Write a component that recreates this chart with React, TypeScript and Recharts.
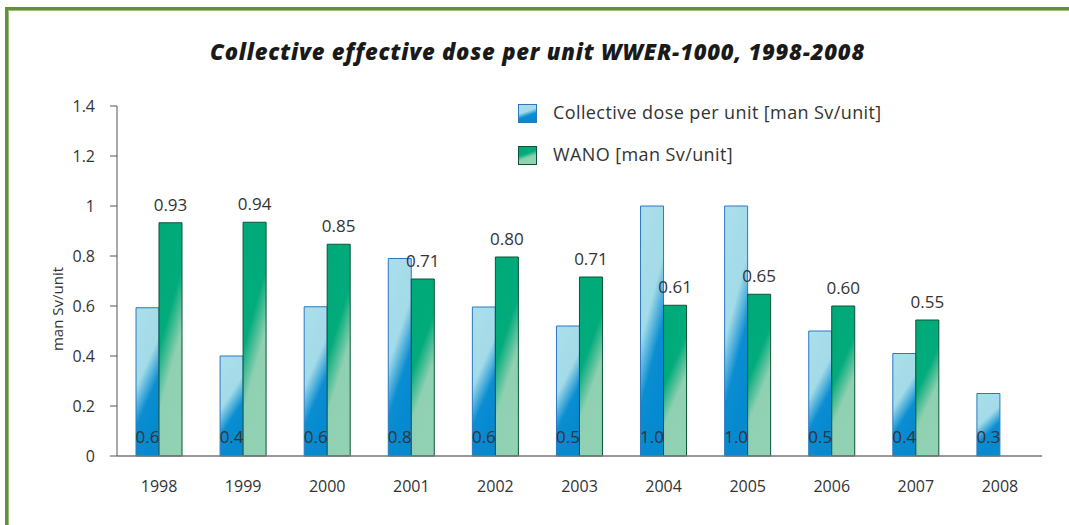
import React from 'react';
import { BarChart, Bar, XAxis, YAxis, LabelList, Label } from 'recharts';

const years = ['1998', '1999', '2000', '2001', '2002', '2003', '2004', '2005', '2006', '2007', '2008'];
const doseValues = [0.593, 0.4, 0.597, 0.79, 0.596, 0.52, 1.0, 1.0, 0.5, 0.41, 0.25];
const doseLabels = ['0.6', '0.4', '0.6', '0.8', '0.6', '0.5', '1.0', '1.0', '0.5', '0.4', '0.3'];
const wanoValues = [0.933, 0.935, 0.847, 0.708, 0.796, 0.716, 0.603, 0.647, 0.6, 0.544, null];
const wanoLabels = ['0.93', '0.94', '0.85', '0.71', '0.80', '0.71', '0.61', '0.65', '0.60', '0.55', undefined];
const yTicks = [0, 0.2, 0.4, 0.6, 0.8, 1, 1.2, 1.4];
const boundaryTicks = [0, 1, 2, 3, 4, 5, 6, 7, 8, 9, 10, 11];
const seriesNames = ['Collective dose per unit [man Sv/unit]', 'WANO [man Sv/unit]'];
const titleText = 'Collective effective dose per unit WWER-1000, 1998-2008';
const yAxisTitle = 'man Sv/unit';

const data = years.map((year, i) => ({
  year,
  dose: doseValues[i],
  doseLabel: doseLabels[i],
  wano: wanoValues[i],
  wanoLabel: wanoLabels[i],
}));

const FONT = '"Open Sans", sans-serif';
const TEXT = '#333333';

export default function App() {
  return (
    <div style={{ position: 'absolute', left: 0, top: 0, width: 1069, height: 525, overflow: 'hidden', background: '#ffffff', fontFamily: FONT }}>
      <svg width={0} height={0} style={{ position: 'absolute' }}>
        <defs>
          <linearGradient id="gBlue" x1="0" y1="0" x2="0.35" y2="1">
            <stop offset="0" stopColor="#aadeea" />
            <stop offset="0.48" stopColor="#a4dbe8" />
            <stop offset="0.72" stopColor="#0a8dd1" />
            <stop offset="1" stopColor="#0589cf" />
          </linearGradient>
          <linearGradient id="gGreen" x1="0" y1="0" x2="0.35" y2="1">
            <stop offset="0" stopColor="#00a977" />
            <stop offset="0.48" stopColor="#02ab7b" />
            <stop offset="0.72" stopColor="#8ed0b1" />
            <stop offset="1" stopColor="#92d2b4" />
          </linearGradient>
        </defs>
      </svg>
      <div style={{ position: 'absolute', left: 5, top: 7, width: 1200, height: 700, borderTop: '3px solid #64903a', borderLeft: '3px solid #64903a', boxShadow: 'inset 1px 1px 0 #9dbd7f' }} />
      <div style={{ position: 'absolute', left: 3, top: 40, width: 1069, textAlign: 'center', fontSize: 22, lineHeight: '22px', fontWeight: 800, fontStyle: 'italic', letterSpacing: 0.8, color: '#1a1a1a', whiteSpace: 'nowrap' }}>
        {titleText}
      </div>
      <div style={{ position: 'absolute', left: 0, top: 0 }}>
        <BarChart width={1069} height={525} data={data} margin={{ top: 106, right: 27, bottom: 39, left: 57 }} barGap={0} barSize={23}>
          <XAxis xAxisId="bnd" type="number" domain={[0, 11]} ticks={boundaryTicks} allowDataOverflow height={0} tick={false} axisLine={false} tickLine={{ stroke: '#555' }} tickSize={6} />
          <XAxis xAxisId="cat" dataKey="year" height={30} axisLine={{ stroke: '#777', strokeWidth: 1.5 }} tickLine={false} tickSize={0} tickMargin={25} tick={{ fill: TEXT, fontSize: 16, fontFamily: FONT }} />
          <YAxis width={60} domain={[0, 1.4]} ticks={yTicks} tickFormatter={(v) => String(v)} axisLine={{ stroke: '#555' }} tickLine={{ stroke: '#555' }} tickSize={7} tickMargin={15} tick={{ fill: TEXT, fontSize: 16, fontFamily: FONT }}>
            <Label
              content={(props: any) => {
                const vb = props.viewBox || { x: 57, y: 106, width: 60, height: 350 };
                const cx = vb.x;
                const cy = vb.y + vb.height / 2 + 28;
                return (
                  <text x={cx} y={cy} transform={`rotate(-90 ${cx} ${cy})`} textAnchor="middle" dominantBaseline="central" fill={TEXT} fontSize={15} fontFamily={FONT}>
                    {yAxisTitle}
                  </text>
                );
              }}
            />
          </YAxis>
          <Bar xAxisId="cat" dataKey="dose" name={seriesNames[0]} fill="url(#gBlue)" stroke="#2a78c2" strokeWidth={1} isAnimationActive={false}>
            <LabelList dataKey="doseLabel" position="insideBottom" offset={13} fill={TEXT} fontSize={17} fontFamily={FONT} />
          </Bar>
          <Bar xAxisId="cat" dataKey="wano" name={seriesNames[1]} fill="url(#gGreen)" stroke="#0d5434" strokeWidth={1} isAnimationActive={false}>
            <LabelList dataKey="wanoLabel" position="top" offset={12} fill={TEXT} fontSize={17} fontFamily={FONT} />
          </Bar>
        </BarChart>
      </div>
      {seriesNames.map((name, i) => (
        <React.Fragment key={name}>
          <svg style={{ position: 'absolute', left: 518, top: i === 0 ? 104 : 146 }} width={19} height={19}>
            <rect x={0.5} y={0.5} width={18} height={18} fill={i === 0 ? 'url(#gBlue)' : 'url(#gGreen)'} stroke={i === 0 ? '#2a78c2' : '#0d5434'} strokeWidth={1} />
          </svg>
          <div style={{ position: 'absolute', left: 553, top: i === 0 ? 102 : 144, fontSize: 18, lineHeight: '20px', letterSpacing: 0.4, color: TEXT, whiteSpace: 'nowrap' }}>
            {name}
          </div>
        </React.Fragment>
      ))}
    </div>
  );
}
